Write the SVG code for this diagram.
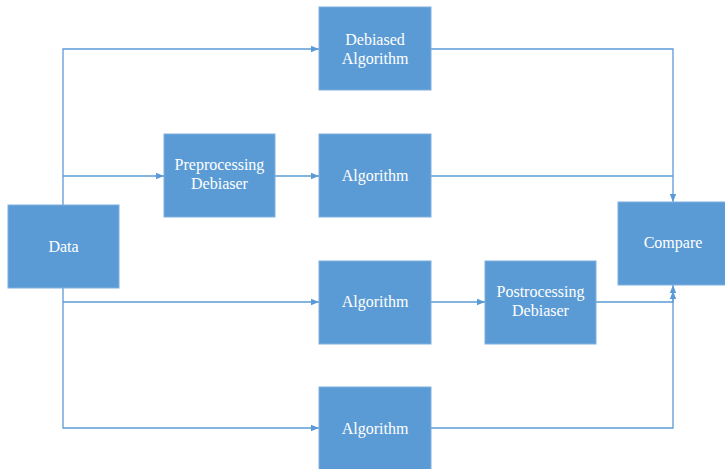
<svg xmlns="http://www.w3.org/2000/svg" width="725" height="469" viewBox="0 0 725 469">
<defs>
<marker id="arr" viewBox="0 0 8 8" refX="8" refY="4" markerWidth="8" markerHeight="8" markerUnits="userSpaceOnUse" orient="auto">
<path d="M0,0.8 L8,4 L0,7.2 Z" fill="#5B9BD5"/>
</marker>
</defs>
<style>
.box{fill:#5B9BD5;stroke:#7FB0DE;stroke-width:1}
.t{font-family:"Liberation Serif","Times New Roman",serif;font-size:16px;fill:#FFFFFF;text-anchor:middle}
.c{fill:none;stroke:#5B9BD5;stroke-width:1.3}
</style>
<rect width="725" height="469" fill="#FFFFFF"/>
<g id="connectors">
<path class="c" d="M63,205 V49 H319" marker-end="url(#arr)"/>
<path class="c" d="M63,176 H164" marker-end="url(#arr)"/>
<path class="c" d="M275,176 H319" marker-end="url(#arr)"/>
<path class="c" d="M431,49 H673 V202" marker-end="url(#arr)"/>
<path class="c" d="M431,176 H673"/>
<path class="c" d="M63,288 V428 H319" marker-end="url(#arr)"/>
<path class="c" d="M63,302 H319" marker-end="url(#arr)"/>
<path class="c" d="M431,302 H485" marker-end="url(#arr)"/>
<path class="c" d="M596,302 H673 V285" marker-end="url(#arr)"/>
<path class="c" d="M431,428 H673 V291" marker-end="url(#arr)"/>
</g>
<g id="data"><rect class="box" x="8" y="205" width="111" height="83"/><text class="t" x="63.5" y="252">Data</text></g>
<g id="debiased"><rect class="box" x="319" y="7" width="112" height="83"/><text class="t" x="375" y="45">Debiased</text><text class="t" x="375" y="64">Algorithm</text></g>
<g id="preproc"><rect class="box" x="164" y="134" width="111" height="83"/><text class="t" x="219.5" y="170">Preprocessing</text><text class="t" x="219.5" y="189">Debiaser</text></g>
<g id="alg1"><rect class="box" x="319" y="134" width="112" height="83"/><text class="t" x="375" y="181">Algorithm</text></g>
<g id="compare"><rect class="box" x="618" y="202" width="112" height="83"/><text class="t" x="673" y="248">Compare</text></g>
<g id="alg2"><rect class="box" x="319" y="261" width="112" height="83"/><text class="t" x="375" y="307">Algorithm</text></g>
<g id="postproc"><rect class="box" x="485" y="261" width="111" height="83"/><text class="t" x="540.5" y="297">Postrocessing</text><text class="t" x="540.5" y="316">Debiaser</text></g>
<g id="alg3"><rect class="box" x="319" y="387" width="112" height="85"/><text class="t" x="375" y="434">Algorithm</text></g>
</svg>
